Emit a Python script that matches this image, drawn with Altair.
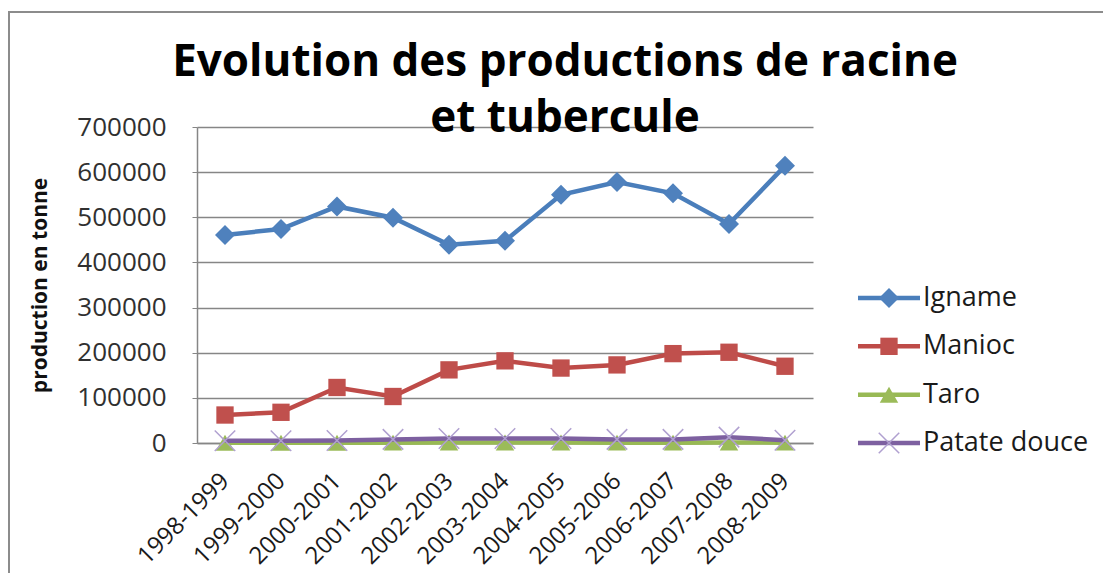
import altair as alt
import pandas as pd

seasons = ["1998-1999", "1999-2000", "2000-2001", "2001-2002", "2002-2003", "2003-2004",
           "2004-2005", "2005-2006", "2006-2007", "2007-2008", "2008-2009"]
series_names = ["Igname", "Manioc", "Taro", "Patate douce"]
igname = [461000, 474000, 524000, 499000, 439000, 448000, 550000, 578000, 553000, 485000, 614000]
manioc = [62000, 68000, 123000, 103000, 162000, 182000, 166000, 173000, 198000, 201000, 170000]
taro = [500, 600, 700, 800, 900, 900, 900, 800, 800, 900, 800]
patate = [5000, 5000, 5500, 8000, 10000, 10000, 10000, 8000, 8000, 13000, 6000]
y_ticks = [0, 100000, 200000, 300000, 400000, 500000, 600000, 700000]

line_colors = ["#4A7EBB", "#BE4B48", "#98B954", "#7D60A0"]
marker_fill = ["#4F81BD", "#C0504D", "#9BBB59", "#B0A0D0"]
shapes = ["diamond", "square", "triangle-up", "M-1,-1L1,1M-1,1L1,-1"]
sizes = [400, 300, 340, 420]

values = {"Igname": igname, "Manioc": manioc, "Taro": taro, "Patate douce": patate}
rows = []
for s in series_names:
    for season, v in zip(seasons, values[s]):
        rows.append({"season": season, "series": s, "value": v})
df = pd.DataFrame(rows)

FONT = "Open Sans"

x_enc = alt.X("season:N", sort=seasons,
              scale=alt.Scale(type="point", domain=seasons, padding=0.5),
              axis=alt.Axis(title=None, labelAngle=315, labelAlign="right", labelBaseline="middle",
                            labelPadding=34, labelFontSize=24, labelFont=FONT, labelColor="#1a1a1a",
                            ticks=False, domainColor="#868686", domainWidth=1.5, grid=False,
                            labelOverlap=False))
y_enc = alt.Y("value:Q", scale=alt.Scale(domain=[0, 700000], nice=False),
              axis=alt.Axis(title="production en tonne", values=y_ticks, format="d",
                            labelFontSize=26, labelFont=FONT, labelColor="#303030",
                            labelPadding=26, tickSize=5, tickColor="#868686",
                            domainColor="#868686", domainWidth=1.5,
                            gridColor="#868686", gridWidth=1.5,
                            titleFontSize=21, titleFont=FONT, titleFontWeight="bold",
                            titleColor="#111111", titlePadding=26))

layers = []
for i, s in enumerate(series_names):
    base = alt.Chart(df).transform_filter(alt.datum.series == s)
    line = base.mark_line(color=line_colors[i], strokeWidth=4.5).encode(x=x_enc, y=y_enc)
    if i < 3:
        pt = base.mark_point(shape=shapes[i], size=sizes[i], filled=True, opacity=1,
                             color=marker_fill[i]).encode(x=x_enc, y=y_enc)
    else:
        pt = base.mark_point(shape=shapes[i], size=sizes[i], filled=False, opacity=1,
                             stroke=marker_fill[i], strokeWidth=1.5).encode(x=x_enc, y=y_enc)
    layers += [line, pt]

main = alt.layer(*layers)

# manual legend (line + marker + label), drawn through its own scales
leg_df = pd.DataFrame({"series": series_names, "x0": [0] * 4, "xm": [0.5] * 4, "x1": [1] * 4})
ly = alt.Y("series:N", sort=series_names,
           scale=alt.Scale(type="point", domain=series_names, range=[171, 316], padding=0),
           axis=None)
lx_scale = alt.Scale(domain=[0, 1], range=[661, 723])
color_scale = alt.Scale(domain=series_names, range=line_colors)
leg_rule = alt.Chart(leg_df).mark_rule(strokeWidth=4.5).encode(
    x=alt.X("x0:Q", scale=lx_scale, axis=None), x2="x1:Q", y=ly,
    color=alt.Color("series:N", scale=color_scale, legend=None))
leg_pts = []
for i, s in enumerate(series_names):
    b = alt.Chart(leg_df).transform_filter(alt.datum.series == s)
    if i < 3:
        leg_pts.append(b.mark_point(shape=shapes[i], size=sizes[i], filled=True, opacity=1,
                                    color=marker_fill[i]).encode(
            x=alt.X("xm:Q", scale=lx_scale, axis=None), y=ly))
    else:
        leg_pts.append(b.mark_point(shape=shapes[i], size=sizes[i], filled=False, opacity=1,
                                    stroke=marker_fill[i], strokeWidth=1.5).encode(
            x=alt.X("xm:Q", scale=lx_scale, axis=None), y=ly))
leg_text = alt.Chart(leg_df).mark_text(align="left", baseline="middle", dx=3, fontSize=27,
                                       font=FONT, color="#1a1a1a").encode(
    x=alt.X("x1:Q", scale=lx_scale, axis=None), y=ly, text="series:N")
legend = alt.layer(leg_rule, *leg_pts, leg_text)

frame = alt.Chart(pd.DataFrame({"a": [0]})).mark_rect(
    fill="transparent", stroke="#8c8c8c", strokeWidth=2).encode(
    x=alt.value(-188), x2=alt.value(940), y=alt.value(-115), y2=alt.value(480))

chart = alt.layer(frame, main, legend).resolve_scale(
    x="independent", y="independent", color="independent"
).properties(
    width=616, height=316,
    title=alt.TitleParams(text=["Evolution des productions de racine", "et tubercule"],
                          fontSize=44, font=FONT, fontWeight="bold", color="black",
                          anchor="middle", frame="group", dx=60, offset=-174,
                          baseline="bottom", lineHeight=56),
    autosize=alt.AutoSizeParams(type="none"),
    padding={"left": 189, "top": 119, "right": 290, "bottom": 130},
).configure_view(stroke=None).configure_axis(labelFontWeight="normal")

chart.save("out.html", embed_options={"renderer": "svg", "actions": False})
